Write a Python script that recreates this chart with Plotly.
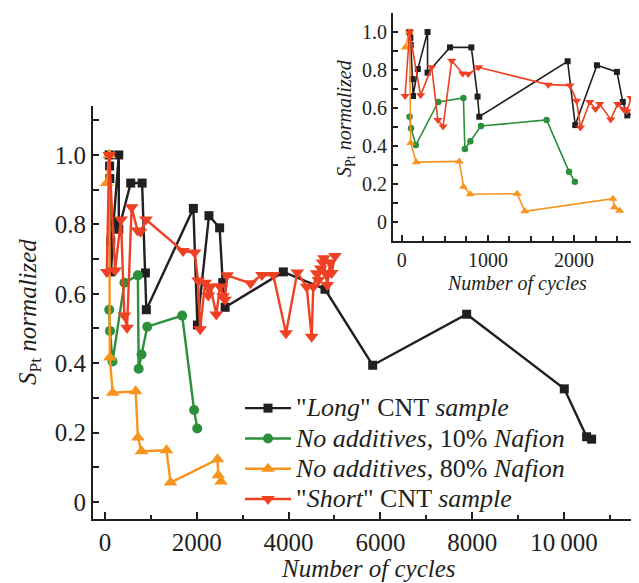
import plotly.graph_objects as go

# ---- data ----
long_x = [90, 100, 105, 125, 131, 187, 300, 300, 560, 808, 880, 900, 1925, 2013, 2265, 2497, 2565, 2617,
          3885, 4793, 5832, 7880, 10007, 10494, 10603]
long_y = [1.0, 0.968, 0.932, 0.752, 0.663, 0.805, 1.0, 0.786, 0.919, 0.919, 0.66, 0.554, 0.846, 0.51, 0.825,
          0.79, 0.632, 0.561, 0.663, 0.613, 0.394, 0.541, 0.326, 0.188, 0.181]

nafion10_x = [91, 108, 164, 424, 716, 733, 796, 920, 1681, 1941, 2009]
nafion10_y = [0.554, 0.493, 0.405, 0.632, 0.653, 0.384, 0.425, 0.505, 0.537, 0.265, 0.212]

nafion80_x = [39, 91, 104, 168, 668, 717, 794, 1340, 1428, 2450, 2468, 2528]
nafion80_y = [0.919, 1.0, 0.416, 0.315, 0.319, 0.186, 0.146, 0.149, 0.056, 0.123, 0.077, 0.059]

short_x = [39, 91, 219, 348, 420, 480, 580, 708, 772, 892, 1700, 1952, 2029, 2073, 2181, 2249, 2297,
           2425, 2505, 2573, 2613, 2661, 3170, 3420, 3667, 3943, 4190, 4394, 4503, 4538, 4612, 4650,
           4700, 4740, 4771, 4800, 4843, 4866, 4902, 4939, 5011]
short_y = [0.663, 1.0, 0.667, 0.814, 0.537, 0.502, 0.849, 0.782, 0.779, 0.814, 0.723, 0.719, 0.638,
           0.498, 0.632, 0.595, 0.621, 0.54, 0.621, 0.593, 0.583, 0.653, 0.63, 0.654, 0.654, 0.486,
           0.661, 0.62, 0.476, 0.62, 0.659, 0.64, 0.673, 0.69, 0.702, 0.66, 0.625, 0.659, 0.69, 0.66,
           0.709]

series_names = ['"<i>Long</i>" CNT <i>sample</i>',
                '<i>No additives</i>, 10% <i>Nafion</i>',
                '<i>No additives</i>, 80% <i>Nafion</i>',
                '"<i>Short</i>" CNT <i>sample</i>']

main_x_ticks = [0, 2000, 4000, 6000, 8000, 10000]
main_x_ticktext = ["0", "2000", "4000", "6000", "8000", "10\u2009000"]
y_ticks = [0, 0.2, 0.4, 0.6, 0.8, 1.0]
y_ticktext = ["0", "0.2", "0.4", "0.6", "0.8", "1.0"]
inset_x_ticks = [0, 1000, 2000]

# ---- styles ----
INK = "#231f20"
colors = ["#231f20", "#2b8f3b", "#f7941d", "#ee4023"]
symbols = ["square", "circle", "triangle-up", "triangle-down"]
main_sizes = [9, 10, 12, 12]
inset_sizes = [6, 6.5, 8, 8]
FONT = "Liberation Serif"

data = [(long_x, long_y), (nafion10_x, nafion10_y), (nafion80_x, nafion80_y), (short_x, short_y)]

fig = go.Figure()
for i, (xs, ys) in enumerate(data):
    fig.add_trace(go.Scatter(
        x=xs, y=ys, mode="lines+markers",
        name='<span style="font-size:26px">' + series_names[i] + '</span>',
        line=dict(color=colors[i], width=2.4),
        marker=dict(symbol=symbols[i], size=main_sizes[i], color=colors[i]),
        xaxis="x", yaxis="y", showlegend=True, cliponaxis=True))
for i, (xs, ys) in enumerate(data):
    fig.add_trace(go.Scatter(
        x=xs, y=ys, mode="lines+markers", name=series_names[i],
        line=dict(color=colors[i], width=1.6),
        marker=dict(symbol=symbols[i], size=inset_sizes[i], color=colors[i]),
        xaxis="x2", yaxis="y2", showlegend=False, cliponaxis=True))

# The page body has an 8px default margin, so the figure is drawn 8px smaller
# and all positions below are given in page pixels of the 639x583 window.
OFF = 8
PAGE_W, PAGE_H = 639, 583
W, H = PAGE_W - OFF, PAGE_H - OFF
PLOT_L, PLOT_R, PLOT_T, PLOT_B = 93, 639, 13, 519
L, R, T, B = PLOT_L - OFF, PAGE_W - PLOT_R, PLOT_T - OFF, PAGE_H - PLOT_B
PW, PH = PLOT_R - PLOT_L, PLOT_B - PLOT_T


def px(xp):
    return (xp - PLOT_L) / PW


def py(yp):
    return (PLOT_B - yp) / PH


axis_common = dict(showgrid=False, zeroline=False, showline=True, linewidth=2, linecolor=INK,
                   ticks="inside", tickcolor=INK, tickwidth=1.5, automargin=False)

fig.update_layout(
    template="none",
    width=W, height=H,
    margin=dict(l=L, r=R, t=T, b=B, autoexpand=False),
    paper_bgcolor="white", plot_bgcolor="rgba(0,0,0,0)",
    font=dict(family=FONT, color=INK),
    xaxis=dict(domain=[0, 1], range=[-262, 11635], tickvals=main_x_ticks, ticktext=main_x_ticktext,
               ticklen=7, tickfont=dict(size=25, family=FONT, color=INK),
               minor=dict(dtick=1000, tick0=0, ticklen=4, ticks="inside", tickcolor=INK, tickwidth=1.5),
               anchor="y", **axis_common),
    yaxis=dict(domain=[0, py(106)], range=[-0.049, 1.141], tickvals=y_ticks, ticktext=y_ticktext,
               ticklen=6, tickfont=dict(size=25, family=FONT, color=INK),
               minor=dict(dtick=0.1, tick0=0, ticklen=6, ticks="inside", tickcolor=INK, tickwidth=1.5),
               anchor="x", **axis_common),
    xaxis2=dict(domain=[px(393), 1], range=[-101, 2753], tickvals=inset_x_ticks,
                ticklen=6, tickfont=dict(size=20, family=FONT, color=INK),
                minor=dict(dtick=250, tick0=0, ticklen=5, ticks="inside", tickcolor=INK, tickwidth=1.5),
                anchor="y2", **axis_common),
    yaxis2=dict(domain=[py(241), 1], range=[-0.10, 1.10], tickvals=y_ticks, ticktext=y_ticktext,
                ticklen=5, tickfont=dict(size=20, family=FONT, color=INK),
                minor=dict(dtick=0.1, tick0=0, ticklen=5, ticks="inside", tickcolor=INK, tickwidth=1.5),
                anchor="x2", **axis_common),
    legend=dict(x=px(240), y=py(388), xanchor="left", yanchor="top", xref="paper", yref="paper",
                bgcolor="rgba(0,0,0,0)", font=dict(size=21, family=FONT, color=INK),
                itemwidth=46, tracegroupgap=0),
    showlegend=True,
)

annotations = [
    dict(text="<i>Number of cycles</i>", x=px(368), y=py(568), font=dict(size=25)),
    dict(text="<i>S</i><sub>Pt</sub> <i>normalized</i>", x=px(30), y=py(312), textangle=-90,
         font=dict(size=25)),
    dict(text="<i>Number of cycles</i>", x=px(517), y=py(283), font=dict(size=20)),
    dict(text="<i>S</i><sub>Pt</sub> <i>normalized</i>", x=px(345), y=py(118), textangle=-90,
         font=dict(size=20)),
]
for a in annotations:
    fig.add_annotation(xref="paper", yref="paper", showarrow=False, xanchor="center", yanchor="middle",
                       **{k: v for k, v in a.items() if k != "font"},
                       font=dict(family=FONT, color=INK, size=a["font"]["size"]))

fig.write_html("out.html")
